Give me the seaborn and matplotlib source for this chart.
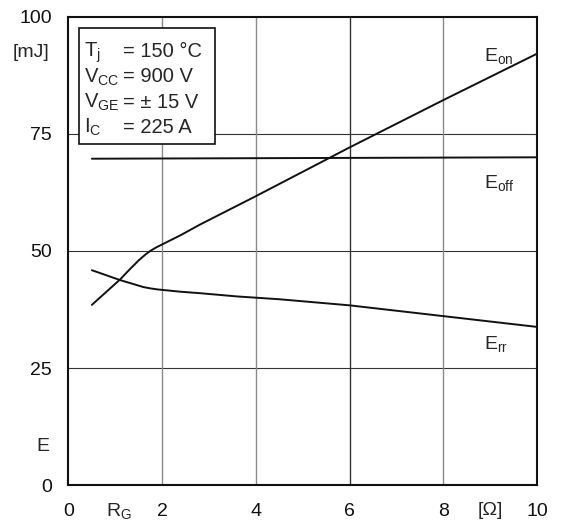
import matplotlib
matplotlib.use("Agg")
import matplotlib.pyplot as plt
import seaborn as sns
import pandas as pd

# curves
rg_on = [0.5, 0.8, 1.1, 1.3, 1.5, 1.65, 1.76, 1.88, 2.0, 2.2, 2.4, 2.8, 4.0, 6.0, 8.0, 10.0]
e_on = [38.5, 41.2, 43.9, 46.0, 48.0, 49.3, 50.1, 50.8, 51.4, 52.4, 53.4, 55.6, 61.7, 72.1, 82.2, 92.1]

rg_off = [0.5, 10.0]
e_off = [69.7, 70.0]

rg_rr = [0.5, 1.1, 1.4, 1.6, 1.76, 1.9, 2.1, 2.4, 2.8, 3.6, 4.5, 6.0, 8.0, 10.0]
e_rr = [45.9, 43.8, 42.9, 42.3, 42.0, 41.8, 41.6, 41.3, 41.0, 40.3, 39.7, 38.4, 36.1, 33.8]

x_ticks = [0, 2, 4, 6, 8, 10]
y_ticks = [0, 25, 50, 75, 100]

cond_names = [r"$\mathregular{T_j}$", r"$\mathregular{V_{CC}}$",
              r"$\mathregular{V_{GE}}$", r"$\mathregular{I_C}$"]
cond_values = ["= 150 °C", "= 900 V", "= ± 15 V", "= 225 A"]

sns.set_style("white")
plt.rcParams["font.family"] = ["Liberation Sans", "DejaVu Sans"]
plt.rcParams["mathtext.fontset"] = "custom"
plt.rcParams["mathtext.rm"] = "Liberation Sans"

fs = 14

fig = plt.figure(figsize=(5.61, 5.24), dpi=100)
ax = fig.add_axes([0.122, 0.074, 0.835, 0.894])

# grid
for y in [25, 50, 75]:
    ax.axhline(y, color="#333333", lw=0.8, zorder=1)
for x in [2, 4, 8]:
    ax.axvline(x, color="#8a8a8a", lw=1.0, zorder=1)
ax.axvline(6, color="#333333", lw=1.0, zorder=1)

df_on = pd.DataFrame({"rg": rg_on, "e": e_on})
df_off = pd.DataFrame({"rg": rg_off, "e": e_off})
df_rr = pd.DataFrame({"rg": rg_rr, "e": e_rr})
for d in [df_on, df_off, df_rr]:
    sns.lineplot(data=d, x="rg", y="e", ax=ax, color="#111111", lw=1.4, zorder=3)

ax.set_xlim(0, 10)
ax.set_ylim(0, 100)
ax.set_xticks(x_ticks)
ax.set_yticks(y_ticks)
ax.set_xticklabels([str(v) for v in x_ticks])
ax.set_yticklabels([str(v) for v in y_ticks])
ax.tick_params(axis="both", length=0, labelsize=fs, colors="#111111")
ax.tick_params(axis="y", pad=12)
ax.tick_params(axis="x", pad=13)
ax.set_xlabel("")
ax.set_ylabel("")
for s in ax.spines.values():
    s.set_color("#111111")
    s.set_linewidth(1.5)

# axis annotations
ax.text(-0.4, 91.4, "[mJ]", fontsize=fs, ha="right", va="baseline", clip_on=False)
ax.text(-0.4, 8.3, "E", fontsize=fs, ha="right", va="center", clip_on=False)
ax.text(1.07, -5.4, r"$\mathregular{R_G}$", fontsize=fs, ha="center", va="center", clip_on=False)
ax.text(9.0, -5.3, "[Ω]", fontsize=fs, ha="center", va="center", clip_on=False)

# curve labels
ax.text(8.87, 90.6, r"$\mathregular{E_{on}}$", fontsize=fs, ha="left", va="baseline")
ax.text(8.87, 63.4, r"$\mathregular{E_{off}}$", fontsize=fs, ha="left", va="baseline")
ax.text(8.87, 29.0, r"$\mathregular{E_{rr}}$", fontsize=fs, ha="left", va="baseline")

# conditions box
box = plt.Rectangle((0.23, 72.9), 2.9, 24.7, fill=True, facecolor="white",
                    edgecolor="#111111", lw=1.2, zorder=4)
ax.add_patch(box)
for i, (n, v) in enumerate(zip(cond_names, cond_values)):
    yy = 91.4 - i * 5.4
    ax.text(0.34, yy, n, fontsize=14.5, ha="left", va="baseline", zorder=5)
    ax.text(1.17, yy, v, fontsize=14.5, ha="left", va="baseline", zorder=5)

fig.savefig("out.png", dpi=100)
